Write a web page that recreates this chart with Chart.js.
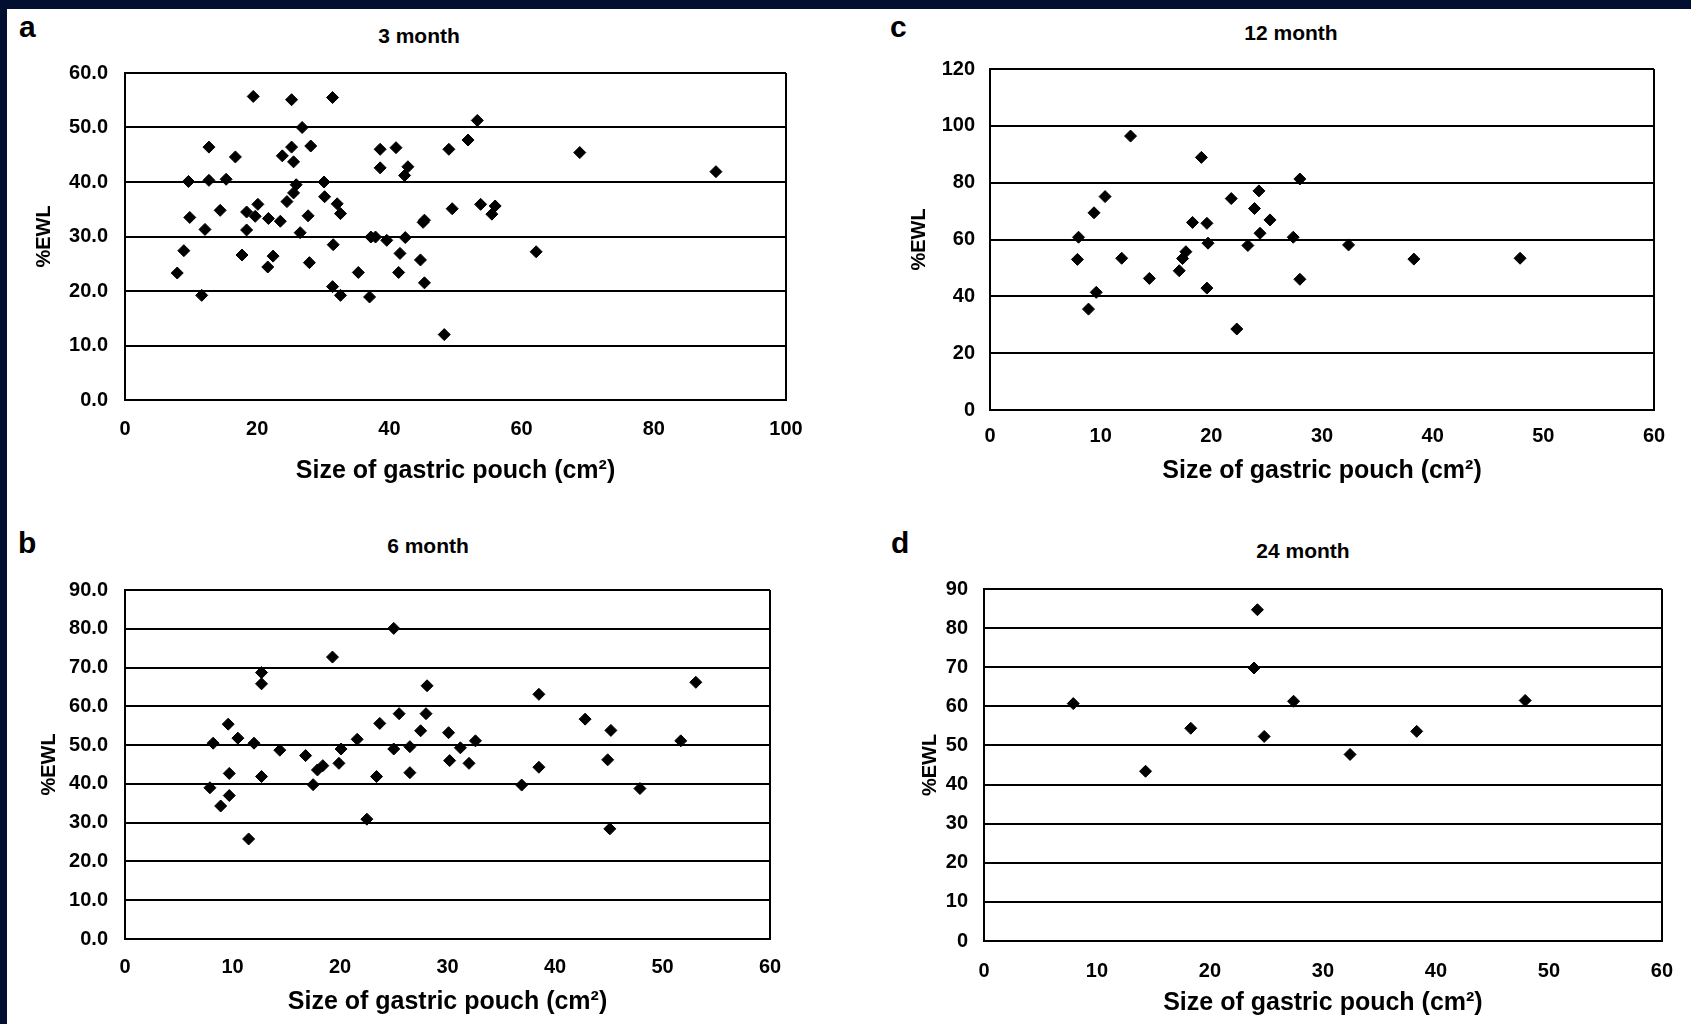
<!DOCTYPE html>
<html lang="en">
<head>
<meta charset="UTF-8">
<title>%EWL vs size of gastric pouch</title>
<script src="https://cdn.jsdelivr.net/npm/chart.js"></script>
<style>
    html, body { margin: 0; padding: 0; }
    body { width: 1691px; height: 1024px; background: #020f30; overflow: hidden; position: relative; font-family: 'Liberation Sans', Arial, sans-serif; }
    .sheet { position: absolute; left: 7px; top: 9px; right: 0; bottom: 0; background: #fff; }
    canvas { position: absolute; }
    .lbl { position: absolute; font-weight: bold; color: #000; line-height: 1; white-space: nowrap; }
    .letter { font-size: 30px; }
    .ttl { font-size: 21px; transform: translateX(-50%); }
</style>
</head>
<body>
<div class="sheet"></div>

<div class="lbl letter" style="left:19px; top:12px;">a</div>
<div class="lbl ttl" style="left:419px; top:25px;">3 month</div>
<div class="lbl letter" style="left:890px; top:12px;">c</div>
<div class="lbl ttl" style="left:1291px; top:22px;">12 month</div>
<div class="lbl letter" style="left:18px; top:528px;">b</div>
<div class="lbl ttl" style="left:428px; top:535px;">6 month</div>
<div class="lbl letter" style="left:891px; top:528px;">d</div>
<div class="lbl ttl" style="left:1303px; top:540px;">24 month</div>

<canvas id="chartA" width="845" height="500" style="left:0; top:0;"></canvas>
<canvas id="chartC" width="846" height="500" style="left:845px; top:0;"></canvas>
<canvas id="chartB" width="845" height="519" style="left:0; top:505px;"></canvas>
<canvas id="chartD" width="846" height="519" style="left:845px; top:505px;"></canvas>

<script>
    // a: 3 month
    const pouch3 = [19.4, 25.2, 31.4, 26.8, 53.3, 51.9, 12.7, 25.2, 28.1, 38.6, 41.0, 49.0, 68.8, 16.7, 23.8, 25.5, 38.6, 42.8, 42.3, 89.4,
        9.6, 12.7, 15.3, 30.1, 25.9, 25.5, 30.2, 24.5, 20.1, 32.1, 32.6, 53.8, 56.0, 55.5, 49.5, 14.4, 18.4, 9.8, 19.7, 21.7,
        23.5, 27.7, 45.3, 45.1, 12.1, 18.4, 26.5, 37.2, 37.9, 39.6, 42.4, 31.5, 8.9, 17.7, 22.4, 41.6, 62.2, 27.9, 44.7, 21.6,
        7.9, 35.3, 41.4, 45.3, 31.4, 32.6, 11.6, 37.0, 48.3];
    const ewl3 = [55.7, 55.1, 55.5, 50.0, 51.3, 47.7, 46.4, 46.4, 46.6, 46.0, 46.3, 46.0, 45.4, 44.6, 44.8, 43.7, 42.6, 42.8, 41.2, 41.9,
        40.1, 40.3, 40.5, 40.0, 39.5, 38.0, 37.3, 36.4, 35.9, 36.0, 34.2, 35.9, 35.6, 34.1, 35.1, 34.8, 34.5, 33.5, 33.7, 33.3,
        32.8, 33.8, 33.0, 32.6, 31.3, 31.2, 30.7, 29.9, 29.9, 29.3, 29.8, 28.5, 27.4, 26.6, 26.4, 26.9, 27.2, 25.2, 25.7, 24.4,
        23.3, 23.4, 23.4, 21.5, 20.8, 19.2, 19.2, 18.9, 12.0];
    const xTicks3 = [0, 20, 40, 60, 80, 100];
    const yTicks3 = [0, 10, 20, 30, 40, 50, 60];

    // b: 6 month
    const pouch6 = [25.0, 19.3, 12.7, 12.7, 28.1, 53.1, 38.5, 25.5, 28.0, 42.8, 23.7, 9.6, 45.2, 27.5, 30.1, 10.5, 21.6, 32.6, 51.7, 8.2,
        12.0, 14.4, 25.0, 26.5, 20.1, 31.2, 16.8, 30.2, 44.9, 19.9, 32.0, 18.4, 17.9, 38.5, 9.7, 26.5, 12.7, 23.4, 17.5, 36.9,
        7.9, 47.9, 9.7, 8.9, 22.5, 45.1, 11.5];
    const ewl6 = [80.1, 72.7, 68.7, 65.8, 65.3, 66.2, 63.1, 58.1, 58.1, 56.7, 55.6, 55.4, 53.8, 53.7, 53.2, 51.8, 51.5, 51.1, 51.1, 50.5,
        50.5, 48.7, 49.0, 49.6, 49.0, 49.3, 47.3, 46.0, 46.2, 45.3, 45.3, 44.7, 43.6, 44.3, 42.7, 42.9, 41.9, 41.9, 39.8, 39.7,
        39.0, 38.8, 37.0, 34.3, 30.9, 28.4, 25.8];
    const xTicks6 = [0, 10, 20, 30, 40, 50, 60];
    const yTicks6 = [0, 10, 20, 30, 40, 50, 60, 70, 80, 90];

    // c: 12 month
    const pouch12 = [12.7, 19.1, 28.0, 10.4, 21.8, 24.3, 9.4, 23.9, 25.3, 18.3, 19.6, 8.0, 24.4, 27.4, 19.7, 23.3, 32.4, 17.7, 17.4, 7.9,
        11.9, 38.3, 47.9, 17.1, 14.4, 28.0, 19.6, 9.6, 8.9, 22.3];
    const ewl12 = [96.4, 88.9, 81.3, 75.1, 74.4, 77.1, 69.4, 70.9, 66.9, 66.0, 65.7, 60.8, 62.2, 60.8, 58.7, 57.9, 58.1, 55.7, 53.3, 53.0,
        53.4, 53.1, 53.4, 49.0, 46.3, 46.0, 42.9, 41.4, 35.5, 28.5];
    const xTicks12 = [0, 10, 20, 30, 40, 50, 60];
    const yTicks12 = [0, 20, 40, 60, 80, 100, 120];

    // d: 24 month
    const pouch24 = [24.2, 23.9, 7.9, 27.4, 47.9, 18.3, 24.8, 38.3, 32.4, 14.3];
    const ewl24 = [84.7, 69.8, 60.7, 61.3, 61.5, 54.4, 52.3, 53.6, 47.7, 43.4];
    const xTicks24 = [0, 10, 20, 30, 40, 50, 60];
    const yTicks24 = [0, 10, 20, 30, 40, 50, 60, 70, 80, 90];

    Chart.defaults.font.family = "'Liberation Sans', Arial, sans-serif";
    Chart.defaults.color = '#000';

    function makePanel(id, xs, ys, xTicks, yTicks, dec, box) {
        const xMax = xTicks[xTicks.length - 1];
        const yMax = yTicks[yTicks.length - 1];
        return new Chart(document.getElementById(id), {
            type: 'scatter',
            data: {
                datasets: [{
                    data: xs.map((x, i) => ({ x: x, y: ys[i] })),
                    pointStyle: 'rectRot',
                    pointRadius: 6,
                    backgroundColor: '#000',
                    borderColor: '#000',
                    borderWidth: 1
                }]
            },
            options: {
                responsive: false,
                animation: false,
                events: [],
                layout: { padding: { top: box.top, right: box.right, bottom: 0, left: 0 } },
                plugins: { legend: { display: false }, tooltip: { enabled: false } },
                scales: {
                    x: {
                        type: 'linear',
                        min: xTicks[0],
                        max: xMax,
                        afterFit: s => { s.height = box.xh; },
                        ticks: { stepSize: xTicks[1] - xTicks[0], padding: box.xtp, font: { size: 20, weight: 'bold' } },
                        grid: {
                            drawTicks: false,
                            lineWidth: 2,
                            color: c => (c.tick && c.tick.value === xMax) ? '#000' : 'rgba(0,0,0,0)'
                        },
                        border: { display: true, color: '#000', width: 2 },
                        title: {
                            display: true,
                            text: 'Size of gastric pouch (cm²)',
                            font: { size: 25, weight: 'bold' },
                            padding: { top: 0, bottom: box.xtt }
                        }
                    },
                    y: {
                        min: yTicks[0],
                        max: yMax,
                        afterFit: s => { s.width = box.yw; },
                        ticks: {
                            stepSize: yTicks[1] - yTicks[0],
                            padding: box.ytp,
                            font: { size: 20, weight: 'bold' },
                            callback: v => v.toFixed(dec)
                        },
                        grid: { drawTicks: false, lineWidth: 2, color: '#000' },
                        border: { display: true, color: '#000', width: 2 },
                        title: {
                            display: true,
                            text: '%EWL',
                            font: { size: 20, weight: 'bold' },
                            padding: { top: box.ytt, bottom: 0 }
                        }
                    }
                }
            }
        });
    }

    makePanel('chartA', pouch3, ewl3, xTicks3, yTicks3, 1,
        { top: 73, right: 59, xh: 100, yw: 125, xtp: 17, ytp: 17, xtt: 14, ytt: 32 });
    makePanel('chartC', pouch12, ewl12, xTicks12, yTicks12, 0,
        { top: 69, right: 37, xh: 90, yw: 145, xtp: 14, ytp: 15, xtt: 14, ytt: 62 });
    makePanel('chartB', pouch6, ewl6, xTicks6, yTicks6, 1,
        { top: 85, right: 75, xh: 85, yw: 125, xtp: 16, ytp: 17, xtt: 7, ytt: 37 });
    makePanel('chartD', pouch24, ewl24, xTicks24, yTicks24, 0,
        { top: 84, right: 16, xh: 83, yw: 139, xtp: 18, ytp: 16, xtt: 6, ytt: 73 });
</script>
</body>
</html>
